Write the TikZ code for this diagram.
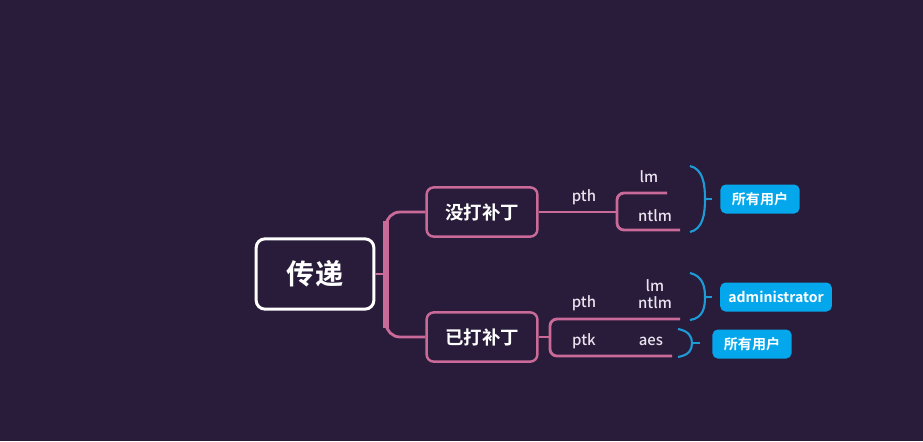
\documentclass[tikz,border=0pt]{standalone}
\usepackage{fontspec}
\setmainfont{Noto Sans CJK SC}[BoldFont={Noto Sans CJK SC Bold}]
\newfontfamily\medfont{Noto Sans CJK SC Medium}
\usepackage{xcolor}
\usetikzlibrary{positioning}
\definecolor{bg}{HTML}{281C3A}
\definecolor{rose}{HTML}{C96A98}
\definecolor{sky}{HTML}{05A7EC}
\definecolor{arc}{HTML}{1E9BD7}
\definecolor{labelc}{HTML}{EAE2EE}

\begin{document}
\begin{tikzpicture}[
    x=0.02cm, y=-0.02cm,
    topic/.style={draw=white, line width=1.7pt, rounded corners=5pt, minimum width=67pt, minimum height=40pt, inner sep=0pt, text=white, font=\bfseries\fontsize{16}{18}\selectfont},
    sub/.style={draw=rose, line width=1.4pt, rounded corners=4pt, minimum width=63pt, minimum height=28pt, inner sep=0pt, text=white, font=\bfseries\fontsize{10.5}{12}\selectfont},
    tag/.style={fill=sky, rounded corners=3pt, minimum width=45pt, minimum height=16.5pt, inner sep=0pt, text=white, font=\bfseries\fontsize{8}{9}\selectfont},
    lbl/.style={text=labelc, inner sep=0pt, font=\medfont\fontsize{8.5}{10}\selectfont},
    link/.style={draw=rose, line width=1.6pt, rounded corners=4pt},
    curly/.style={draw=arc, line width=1.2pt}
]
\fill[bg] (0,0) rectangle (923,441);

% main topic and the two branches
\node[topic] (root) at (315,274) {传递};
\node[sub] (nopatch) at (482,212) {没打补丁};
\node[sub] (patched) at (482,337) {已打补丁};

\coordinate (hub) at (386,274);
\coordinate (trunktop) at (386,221);
\coordinate (trunkbot) at (386,328);
\draw[link] (root.east) -- (hub);
\draw[link, rounded corners=8pt] (nopatch.west) -| (hub) |- (patched.west);
\draw[rose, line width=3.4pt] (trunktop) -- (trunkbot);

% not patched
\coordinate (fork1) at (617,212);
\coordinate (lm1) at (667,193);
\coordinate (ntlm1) at (680,230);
\draw[link] (nopatch.east) -- (fork1);
\draw[link] (lm1) -| (fork1) |- (ntlm1);
\node[lbl] (pth1) at (584,197) {pth};
\node[lbl] (lmtext1) at (649,177) {lm};
\node[lbl] (ntlmtext1) at (655,216) {ntlm};

\coordinate (tip1) at (705,199);
\draw[curly] (690,166) .. controls (703,169) and (705,184) .. (tip1) .. controls (705,214) and (703,229) .. (690,232);
\node[tag] (allusers1) at (760,199) {所有用户};
\coordinate (end1) at (712,199);
\draw[curly] (tip1) -- (end1);

% patched
\coordinate (fork2) at (550,337);
\coordinate (up2) at (680,319);
\coordinate (dn2) at (672,356);
\draw[link] (patched.east) -- (fork2);
\draw[link] (up2) -| (fork2) |- (dn2);
\node[lbl] (pth2) at (584,303) {pth};
\node[lbl] (lmtext2) at (655,286) {lm};
\node[lbl] (ntlmtext2) at (655,303) {ntlm};
\node[lbl] (ptk) at (584,341) {ptk};
\node[lbl] (aes) at (651,341) {aes};

\coordinate (tip2) at (705,297);
\draw[curly] (690,273) .. controls (703,276) and (705,287) .. (tip2) .. controls (705,308) and (703,318) .. (690,320);
\node[tag, minimum width=63.5pt] (admin) at (776,297) {\fontsize{8}{10}\selectfont administrator};
\coordinate (end2) at (712,297);
\draw[curly] (tip2) -- (end2);

\coordinate (tip3) at (692,343);
\draw[curly] (678,329) .. controls (689,331) and (692,337) .. (tip3) .. controls (692,350) and (689,355) .. (678,357);
\node[tag] (allusers2) at (752,344) {所有用户};
\coordinate (end3) at (700,343);
\draw[curly] (tip3) -- (end3);
\end{tikzpicture}
\end{document}
